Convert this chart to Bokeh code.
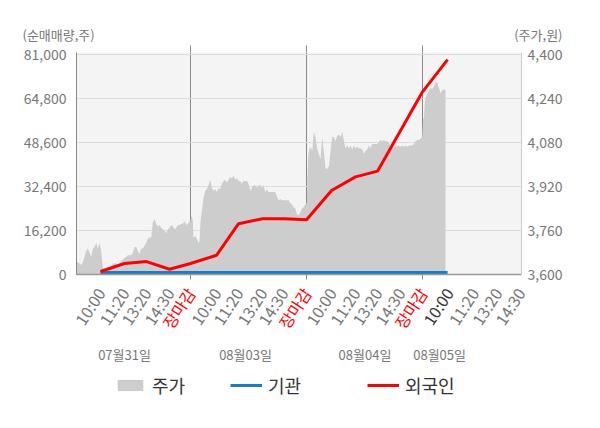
import math
from bokeh.plotting import figure
from bokeh.layouts import column, row
from bokeh.models import (Range1d, LinearAxis, FixedTicker, NumeralTickFormatter,
                          Label, Legend, LegendItem)
from bokeh.embed import file_html
from bokeh.resources import INLINE
from bokeh.core.properties import value

FONT = "Noto Sans CJK KR"

# ---------------- data ----------------
# x positions are in "session slots": each trading day spans 100 units
day_bounds = [100, 200, 300]

tick_pos = [22.4, 43.1, 62.1, 81.9, 100,
            122.4, 141.4, 162.1, 180.2, 200,
            221.6, 242.2, 261.2, 281.0, 300,
            322.5, 344.5, 364.5, 384.5]
tick_text = ["10:00", "11:20", "13:20", "14:30", "장마감",
             "10:00", "11:20", "13:20", "14:30", "장마감",
             "10:00", "11:20", "13:20", "14:30", "장마감",
             "10:00", "11:20", "13:20", "14:30"]
tick_kind = ["t", "t", "t", "t", "close",
             "t", "t", "t", "t", "close",
             "t", "t", "t", "t", "close",
             "now", "t", "t", "t"]

date_pos = [43.1, 147.4, 250.4, 314.7]
date_text = ["07월31일", "08월03일", "08월04일", "08월05일"]

# 주가 (price, right axis)
price_x = [1.7, 2.9, 4.3, 5.7, 7.2, 8.6, 10.1, 11.5, 12.9, 14.4, 15.8, 17.2, 18.7, 20.1,
           21.6, 23.0, 24.4, 25.9, 28.7, 31.6, 33.0, 35.9, 37.4, 40.2, 41.7, 44.5, 46.0,
           48.9, 50.3, 51.7, 53.2, 54.6, 56.0, 57.5, 58.9, 60.3, 61.8, 63.2, 64.7, 66.1,
           67.5, 69.0, 70.4, 71.8, 73.3, 74.7, 76.1, 77.6, 79.0, 80.5, 81.9, 83.3, 84.8,
           86.2, 87.6, 89.1, 90.5, 92.0, 93.4, 94.8, 96.3, 97.7, 99.1, 99.7, 100.6,
           101.2, 102.0, 102.6, 104.0, 105.5, 106.9, 107.8, 108.6, 109.8, 111.2, 112.7,
           114.1, 115.5, 117.0, 118.4, 119.9, 121.3, 122.7, 124.2, 125.6, 127.0, 128.5,
           129.9, 131.3, 132.8, 134.2, 135.7, 137.1, 138.5, 140.0, 141.4, 142.8, 144.3,
           145.7, 147.1, 148.6, 150.0, 151.5, 152.9, 154.3, 155.8, 157.2, 158.6, 160.1,
           161.5, 162.9, 164.4, 165.8, 167.3, 170.1, 171.6, 173.0, 174.5, 175.9, 177.3,
           178.8, 181.6, 183.1, 184.5, 185.9, 187.4, 188.8, 190.3, 191.7, 193.1, 194.6,
           196.0, 197.4, 198.9, 200.3,
           201.2, 202.0, 203.5, 204.9, 206.3, 207.8, 209.2, 210.6, 212.1, 213.5, 214.9,
           216.4, 217.8, 219.3, 220.7, 222.1, 223.6, 225.0, 226.4, 227.9, 229.3, 230.8,
           232.2, 233.6, 235.1, 236.5, 237.9, 239.4, 240.8, 242.2, 243.7, 245.1, 246.6,
           248.0, 249.4, 250.9, 252.3, 253.7, 255.2, 256.6, 258.0, 260.9, 263.8, 265.2,
           266.7, 268.1, 269.5, 271.0, 272.4, 273.9, 275.3, 276.7, 278.2, 279.6, 281.0,
           282.5, 283.9, 285.3, 286.8, 288.2, 289.7, 291.1, 292.5, 294.0, 295.4, 296.8,
           298.3, 299.7,
           300.6, 301.2, 302.0, 303.5, 305.5, 306.9, 308.3, 309.8, 311.2, 312.6, 314.1,
           315.5, 316.9, 318.4, 319.8]
price = [3650, 3645, 3640, 3635, 3645, 3665, 3685, 3695, 3680, 3665, 3695, 3700, 3715, 3695,
         3715, 3685, 3625, 3615, 3625, 3625, 3640, 3640, 3630, 3650, 3655, 3665, 3670,
         3670, 3680, 3700, 3700, 3685, 3675, 3695, 3695, 3705, 3715, 3730, 3735, 3735,
         3790, 3800, 3785, 3775, 3780, 3770, 3765, 3760, 3750, 3765, 3770, 3780, 3775,
         3765, 3770, 3780, 3780, 3785, 3785, 3795, 3780, 3785, 3795, 3790, 3810,
         3810, 3795, 3735, 3740, 3730, 3715, 3725, 3795, 3830, 3880, 3905,
         3910, 3925, 3945, 3915, 3905, 3910, 3900, 3915, 3910, 3930, 3940,
         3945, 3935, 3945, 3955, 3950, 3960, 3945, 3950, 3940, 3940, 3930,
         3940, 3940, 3940, 3930, 3905, 3915, 3925, 3925, 3915, 3925, 3925,
         3915, 3925, 3900, 3910, 3900, 3900, 3900, 3900, 3885, 3870, 3875,
         3870, 3870, 3870, 3870, 3860, 3855, 3845, 3840, 3820, 3815, 3825,
         3840, 3845, 3855, 3860,
         4015, 4050, 4065, 4050, 4120, 4100, 4060, 4040, 4020, 4100, 4050,
         3985, 3985, 3995, 4050, 4100, 4100, 4085, 4105, 4110, 4100, 4120,
         4085, 4060, 4070, 4060, 4070, 4055, 4070, 4060, 4065, 4060, 4060,
         4055, 4040, 4050, 4055, 4070, 4060, 4075, 4075, 4075, 4090, 4085,
         4090, 4085, 4085, 4080, 4070, 4070, 4060, 4070, 4065, 4070, 4065,
         4070, 4065, 4070, 4065, 4070, 4070, 4070, 4075, 4085, 4090, 4090,
         4095, 4100,
         4170, 4170, 4230, 4255, 4270, 4280, 4275, 4285, 4300, 4300, 4280,
         4260, 4270, 4275, 4270]

# 외국인 / 기관 cumulative net buying (shares, left axis)
flow_x = [22.4, 43.1, 62.1, 81.9, 100, 122.4, 141.4, 162.1, 180.2, 200,
          221.6, 242.2, 261.2, 300, 321.6]
foreign = [1100, 4040, 4770, 1950, 4040, 7090, 18730, 20570, 20570, 20200,
           30970, 36000, 38100, 67340, 79240]
inst = [700, 700, 700, 700, 700, 700, 700, 700, 700, 700,
        700, 700, 700, 700, 700]

vol_ticks = [0, 16200, 32400, 48600, 64800, 81000]
price_ticks = [3600, 3760, 3920, 4080, 4240, 4400]

# ---------------- layout constants ----------------
W = 600
LEFT, RIGHT = 76, 79
TOP_H, MAIN_H, BOT_H = 42, 241, 145
X0, X1 = 1.7, 385.3
PPU = (W - LEFT - RIGHT) / (X1 - X0)       # pixels per x unit in the main frame
GREY_TXT = "#777777"
C_AREA, C_INST, C_FOR = "#cdcdcd", "#1480cc", "#ff0000"

# ---------------- top strip: axis titles ----------------
top = figure(width=W, height=TOP_H, output_backend="svg", toolbar_location=None,
             x_range=Range1d(0, W), y_range=Range1d(0, TOP_H),
             x_axis_location=None, y_axis_location=None,
             min_border=0, outline_line_color=None)
top.grid.visible = False
top.add_layout(Label(x=22, y=TOP_H - 33.5, x_units="screen", y_units="screen",
                     text="(순매매량,주)", text_font=FONT, text_font_size="13px",
                     text_color=GREY_TXT, text_baseline="middle", text_align="left"))
top.add_layout(Label(x=562, y=TOP_H - 33.5, x_units="screen", y_units="screen",
                     text="(주가,원)", text_font=FONT, text_font_size="13px",
                     text_color=GREY_TXT, text_baseline="middle", text_align="right"))

# ---------------- main chart ----------------
p = figure(width=W, height=MAIN_H, output_backend="svg", toolbar_location=None,
           x_range=Range1d(X0, X1), y_range=Range1d(0, 81850),
           min_border_left=LEFT, min_border_right=RIGHT, min_border_top=10,
           min_border_bottom=9)
p.extra_y_ranges = {"price": Range1d(3600, 4408.3)}
p.background_fill_color = "#f4f4f4"
p.border_fill_color = "white"
p.outline_line_color = None

area = p.varea(x=price_x, y1=3600, y2=price, y_range_name="price",
               fill_color=C_AREA, fill_alpha=1)
blue = p.line(flow_x, inst, line_color=C_INST, line_width=3)
red = p.line(flow_x, foreign, line_color=C_FOR, line_width=3)

xa = p.xaxis[0]
xa.ticker = FixedTicker(ticks=day_bounds)
xa.major_tick_out = 5
xa.major_tick_in = 0
xa.minor_tick_line_color = None
xa.major_tick_line_color = "#888888"
xa.axis_line_color = "#999999"
xa.axis_line_width = 1.5
xa.major_label_text_font_size = "1px"
xa.major_label_text_color = None
xa.major_label_standoff = 0

top_ax = LinearAxis(ticker=FixedTicker(ticks=day_bounds), major_tick_out=7,
                    major_tick_in=0, axis_line_color=None,
                    minor_tick_line_color=None, major_tick_line_color="#888888",
                    major_label_text_font_size="1px", major_label_text_color=None,
                    major_label_standoff=0)
p.add_layout(top_ax, "above")

p.xgrid.ticker = FixedTicker(ticks=day_bounds)
p.xgrid.grid_line_color = "#888888"

ya = p.yaxis[0]
ya.ticker = FixedTicker(ticks=vol_ticks)
ya.formatter = NumeralTickFormatter(format="0,0")
ya.major_tick_out = 0
ya.major_tick_in = 0
ya.minor_tick_line_color = None
ya.axis_line_color = "#888888"
ya.major_label_standoff = 10
ya.major_label_text_font = FONT
ya.major_label_text_font_size = "14px"
ya.major_label_text_color = GREY_TXT
p.ygrid.ticker = FixedTicker(ticks=vol_ticks)
p.ygrid.grid_line_color = "#dddddd"

ra = LinearAxis(y_range_name="price", ticker=FixedTicker(ticks=price_ticks),
                formatter=NumeralTickFormatter(format="0,0"),
                major_tick_out=0, major_tick_in=0, minor_tick_line_color=None,
                axis_line_color="#cccccc", major_label_standoff=6,
                major_label_text_font=FONT, major_label_text_font_size="14px",
                major_label_text_color=GREY_TXT)
p.add_layout(ra, "right")

# ---------------- bottom strip: time labels, dates, legend ----------------
# full-width frame whose x scale continues the main chart's x scale
bot = figure(width=W, height=BOT_H, output_backend="svg", toolbar_location=None,
             x_range=Range1d(X0 - LEFT / PPU, X1 + RIGHT / PPU),
             y_range=Range1d(0, BOT_H),
             x_axis_location=None, y_axis_location=None,
             min_border=0, outline_line_color=None)
bot.grid.visible = False

color_map = {"t": GREY_TXT, "close": "#ff0000", "now": "#333333"}
bot.text(x=tick_pos, y=BOT_H - 6, text=tick_text,
         text_color=[color_map[k] for k in tick_kind],
         angle=math.radians(57), text_align="right", text_baseline="middle",
         text_font=value(FONT), text_font_size="16px")

bot.text(x=date_pos, y=BOT_H - 70.5, text=date_text, text_color=GREY_TXT,
         text_align="center", text_baseline="middle",
         text_font=value(FONT), text_font_size="13px")

# the same series drawn in this strip lie outside its view; they only feed the legend
lg_area = bot.varea(x=price_x, y1=3600, y2=price, fill_color=C_AREA)
lg_blue = bot.line(flow_x, inst, line_color=C_INST, line_width=3)
lg_red = bot.line(flow_x, foreign, line_color=C_FOR, line_width=3)


def add_legend(label, rend, xloc):
    lg = Legend(items=[LegendItem(label=label, renderers=[rend])],
                location=(xloc, 30), orientation="horizontal",
                glyph_width=32, glyph_height=14, label_standoff=6,
                padding=0, margin=0, spacing=0, border_line_color=None,
                background_fill_alpha=0, label_text_font=FONT,
                label_text_font_size="18px", label_text_color="#333333",
                label_height=14)
    bot.add_layout(lg)


add_legend("주가", lg_area, 114)
add_legend("기관", lg_blue, 230)
add_legend("외국인", lg_red, 367)

layout = column(row(top), p, row(bot), spacing=0)
open("out.html", "w").write(file_html(layout, INLINE, title="chart"))
